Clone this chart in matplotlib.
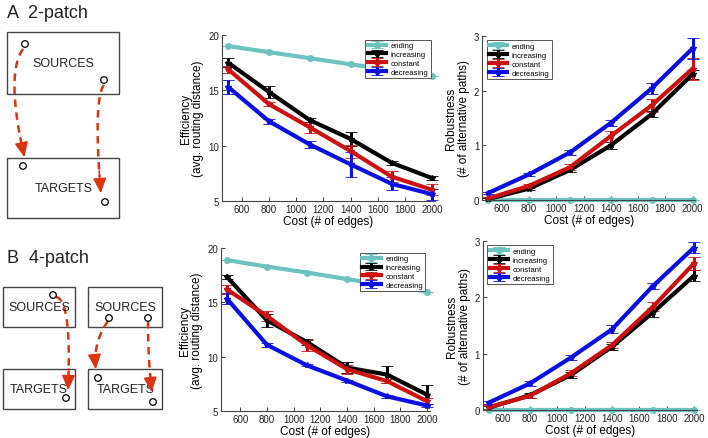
import numpy as np
import matplotlib
matplotlib.use("Agg")
import matplotlib.pyplot as plt

plt.rcParams['font.family'] = ['Liberation Sans', 'DejaVu Sans']

# Dados
custo = [500, 800, 1100, 1400, 1700, 2000]
series = ['ending', 'increasing', 'constant', 'decreasing']
cores = {'ending': '#6cc3bf', 'increasing': '#000000',
         'constant': '#cc1111', 'decreasing': '#0a10e0'}

# Painel A - eficiencia
efic_a = {
    'ending':     [19.0, 18.45, 17.9, 17.35, 16.8, 16.25],
    'increasing': [17.5, 14.85, 12.3, 10.6, 8.45, 7.05],
    'constant':   [16.9, 13.75, 11.65, 9.5, 7.2, 6.0],
    'decreasing': [15.3, 12.2, 10.1, 8.3, 6.55, 5.6],
}
efic_a_err = {
    'ending':     [0, 0, 0, 0, 0, 0],
    'increasing': [0.4, 0.5, 0.2, 0.6, 0.2, 0.2],
    'constant':   [0.3, 0.2, 0.5, 0.6, 0.5, 0.5],
    'decreasing': [0.6, 0.2, 0.3, 1.1, 0.6, 0.5],
}
# Painel A - robustez
rob_a = {
    'ending':     [0, 0, 0, 0, 0, 0],
    'increasing': [0.02, 0.21, 0.55, 1.0, 1.57, 2.3],
    'constant':   [0.03, 0.26, 0.6, 1.17, 1.73, 2.4],
    'decreasing': [0.13, 0.47, 0.87, 1.41, 2.04, 2.77],
}
rob_a_err = {
    'ending':     [0, 0, 0, 0, 0, 0],
    'increasing': [0.02, 0.03, 0.04, 0.06, 0.06, 0.08],
    'constant':   [0.02, 0.04, 0.05, 0.1, 0.12, 0.2],
    'decreasing': [0.02, 0.03, 0.04, 0.05, 0.1, 0.2],
}
# Painel B - eficiencia
efic_b = {
    'ending':     [18.9, 18.3, 17.75, 17.15, 16.55, 16.0],
    'increasing': [17.35, 13.35, 11.35, 9.0, 8.35, 6.5],
    'constant':   [16.2, 13.75, 11.05, 8.85, 7.75, 5.9],
    'decreasing': [15.35, 11.1, 9.2, 7.8, 6.35, 5.5],
}
efic_b_err = {
    'ending':     [0, 0, 0, 0, 0, 0],
    'increasing': [0.2, 0.6, 0.3, 0.5, 0.8, 0.9],
    'constant':   [0.4, 0.5, 0.5, 0.4, 0.2, 0.3],
    'decreasing': [0.5, 0.2, 0.1, 0.1, 0.15, 0.1],
}
# Painel B - robustez
rob_b = {
    'ending':     [0, 0, 0, 0, 0, 0],
    'increasing': [0.04, 0.26, 0.62, 1.12, 1.73, 2.38],
    'constant':   [0.05, 0.25, 0.65, 1.15, 1.83, 2.6],
    'decreasing': [0.13, 0.47, 0.93, 1.43, 2.2, 2.88],
}
rob_b_err = {
    'ending':     [0, 0, 0, 0, 0, 0],
    'increasing': [0.03, 0.04, 0.05, 0.05, 0.08, 0.1],
    'constant':   [0.03, 0.04, 0.05, 0.06, 0.08, 0.12],
    'decreasing': [0.03, 0.04, 0.04, 0.07, 0.05, 0.1],
}

fig = plt.figure(figsize=(7.08, 4.39), dpi=100)


# Desenho esquematico em coordenadas de pixel
diag = fig.add_axes([0, 0, 1, 1], zorder=-1)
diag.set_xlim(0, 708)
diag.set_ylim(439, 0)
diag.axis('off')

def caixa(x0, y0, x1, y1, texto, tx, ty):
    diag.add_patch(plt.Rectangle((x0, y0), x1 - x0, y1 - y0, fill=False,
                                 edgecolor='#444444', linewidth=1.0))
    diag.text(tx, ty, texto, ha='center', va='center', fontsize=9, color='#222222')

def circulo(x, y):
    diag.add_patch(plt.Circle((x, y), 3.3, fill=True, facecolor='white',
                              edgecolor='black', linewidth=0.9, zorder=5))

def seta(p0, pc, p1):
    # curva de Bezier quadratica tracejada com ponta de seta
    t = np.linspace(0, 1, 40)
    xs = (1 - t) ** 2 * p0[0] + 2 * (1 - t) * t * pc[0] + t ** 2 * p1[0]
    ys = (1 - t) ** 2 * p0[1] + 2 * (1 - t) * t * pc[1] + t ** 2 * p1[1]
    diag.plot(xs[:-4], ys[:-4], linestyle=(0, (3, 2.2)), color='#dd3311', linewidth=1.8)
    diag.annotate('', xy=(xs[-1], ys[-1]), xytext=(xs[-7], ys[-7]),
                  arrowprops=dict(arrowstyle='-|>,head_length=0.9,head_width=0.4',
                                  color='#dd3311', linewidth=1.2))

diag.text(7, 14, 'A  2-patch', fontsize=13, va='center', ha='left', color='#222222')
caixa(7, 33, 119, 95, 'SOURCES', 63, 64)
caixa(7, 159, 119, 219, 'TARGETS', 64, 189)
seta((23, 50), (5, 75), (25, 161))
seta((104, 86), (93, 100), (101, 197))
for c in [(25, 45), (104, 81), (23, 167), (105, 203)]:
    circulo(*c)

diag.text(7, 259, 'B  4-patch', fontsize=13, va='center', ha='left', color='#222222')
caixa(3, 288, 75, 328, 'SOURCES', 39, 308)
caixa(88, 288, 162, 328, 'SOURCES', 125, 308)
caixa(3, 370, 75, 410, 'TARGETS', 39, 390)
caixa(88, 370, 162, 410, 'TARGETS', 126, 390)
seta((56, 298), (72, 300), (68, 394))
seta((108, 322), (92, 345), (96, 373))
seta((148, 322), (148, 360), (152, 396))
for c in [(53, 296), (109, 319), (148, 319), (98, 379), (66, 399), (153, 403)]:
    circulo(*c)


def painel(pos, dados, erros, ylim, yticks, ylabel, loc_leg):
    ax = fig.add_axes(pos)
    for s in series:
        mk = 'o' if s == 'ending' else '*'
        ax.errorbar(custo, dados[s], yerr=erros[s], color=cores[s], linewidth=3,
                    marker=mk, markersize=4, markerfacecolor=cores[s],
                    markeredgecolor=cores[s], elinewidth=2.2, capsize=4,
                    capthick=0.6, ecolor=cores[s], label=s, clip_on=False)
    ax.set_xlim(455, 2020)
    ax.set_ylim(*ylim)
    ax.set_xticks([600, 800, 1000, 1200, 1400, 1600, 1800, 2000])
    ax.set_yticks(yticks)
    ax.tick_params(labelsize=7, direction='in', length=3, width=0.6,
                   colors='#222222', pad=2)
    for lado in ['top', 'right']:
        ax.spines[lado].set_visible(False)
    for lado in ['left', 'bottom']:
        ax.spines[lado].set_linewidth(0.8)
        ax.spines[lado].set_color('#444444')
    ax.set_xlabel('Cost (# of edges)', fontsize=8.5, labelpad=1)
    ax.set_ylabel(ylabel, fontsize=8.5, labelpad=3, linespacing=1.05)
    leg = ax.legend(loc=loc_leg, fontsize=5.5, handlelength=2.4, borderpad=0.3,
                    labelspacing=0.2, handletextpad=0.6, fancybox=False,
                    framealpha=1, edgecolor='#555555', borderaxespad=0.6)
    leg.get_frame().set_linewidth(0.7)
    return ax


painel([0.3136, 0.540, 0.301, 0.378], efic_a, efic_a_err, (5, 20), [5, 10, 15, 20],
       'Efficiency\n(avg. routing distance)', 'upper right')
painel([0.681, 0.542, 0.301, 0.374], rob_a, rob_a_err, (0, 3), [0, 1, 2, 3],
       'Robustness\n(# of alternative paths)', 'upper left')
painel([0.312, 0.0615, 0.295, 0.371], efic_b, efic_b_err, (5, 20), [5, 10, 15, 20],
       'Efficiency\n(avg. routing distance)', 'upper right')
painel([0.682, 0.064, 0.302, 0.385], rob_b, rob_b_err, (0, 3), [0, 1, 2, 3],
       'Robustness\n(# of alternative paths)', 'upper left')

fig.savefig('out.png', dpi=100)
